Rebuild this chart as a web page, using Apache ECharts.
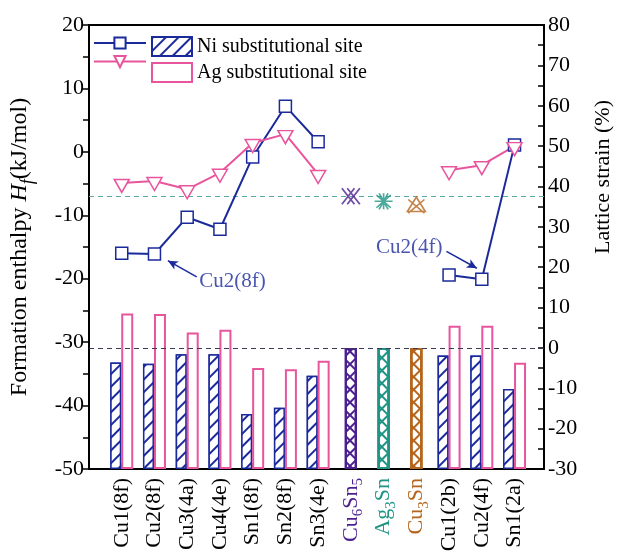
<!DOCTYPE html>
<html>
<head>
<meta charset="utf-8">
<script src="https://cdn.jsdelivr.net/npm/echarts@6/dist/echarts.min.js"></script>
<style>html,body{margin:0;padding:0;background:#fff}#c{width:622px;height:556px}</style>
</head>
<body>
<div id="c"></div>
<script>
// ---- data ----
const categories = ['Cu1(8f)','Cu2(8f)','Cu3(4a)','Cu4(4e)','Sn1(8f)','Sn2(8f)','Sn3(4e)','Cu6Sn5','Ag3Sn','Cu3Sn','Cu1(2b)','Cu2(4f)','Sn1(2a)'];
const niEnthalpy = [-16.0,-16.1,-10.3,-12.2,-0.8,7.2,1.6,null,null,null,-19.4,-20.1,1.1];
const agEnthalpy = [-4.9,-4.6,-5.9,-3.3,1.4,2.8,-3.5,null,null,null,-2.9,-2.1,0.9];
const niStrain = [-3.6,-3.9,-1.6,-1.6,-16.4,-14.8,-6.9,null,null,null,-1.9,-1.9,-10.2];
const agStrain = [8.5,8.4,3.8,4.5,-5.0,-5.3,-3.2,null,null,null,5.5,5.5,-3.7];
const compoundIndex = [7,8,9];
const compoundEnthalpy = [-7.0,-7.8,-8.4];
const compoundStrain = [0,0,0];
const refEnthalpy = -7.0;
const refStrain = 0;
const leftTicks = {min:-50,max:20,interval:10};
const rightTicks = {min:-30,max:80,interval:10};
const annotations = [
  {text:'Cu2(8f)', from:[3.29,-19.7], to:[2.41,-17.15], label:[3.37,-20.4], side:'right'},
  {text:'Cu2(4f)', from:[10.92,-15.7], to:[11.85,-18.35], label:[10.8,-15.0], side:'left'}
];

// ---- styles ----
const FONT = 'Liberation Serif';
const BLUE = '#1b2a9b', PINK = '#e8559d';
const compoundColors = ['#4b1f8f','#1f9484','#b5651d'];
const compoundSymbols = [
  'path://M0,0L14,14M6,0L20,14M0,14L14,0M6,14L20,0',
  'path://M10,0L10,20M0,10L20,10M2,2L18,18M2,18L18,2M5,0L15,20M15,0L5,20',
  'path://M10,0L20,18L0,18ZM1,3L19,20M19,3L1,20'
];

const pairs = arr => arr.map((v,i)=>[i+1, v==null?'-':v]);

function labelFmt(v){
  if (Math.abs(v-Math.round(v))>1e-6) return '';
  const i = Math.round(v)-1;
  if (i<0 || i>=categories.length) return '';
  const c = categories[i];
  if (c==='Cu6Sn5') return '{a|Cu}{as|6}{a|Sn}{as|5}';
  if (c==='Ag3Sn') return '{b|Ag}{bs|3}{b|Sn}';
  if (c==='Cu3Sn') return '{c|Cu}{cs|3}{c|Sn}';
  return '{k|'+c+'}';
}
function rs(color, sub){
  return sub ? {color, fontFamily:FONT, fontSize:15, verticalAlign:'bottom', lineHeight:30, padding:[0,0,0,0]}
             : {color, fontFamily:FONT, fontSize:22, lineHeight:30};
}

const chart = echarts.init(document.getElementById('c'), null, {renderer:'canvas'});
const option = {
  backgroundColor:'#fff',
  animation:false,
  grid:{left:83,right:65,top:25,bottom:87,show:true,borderColor:'#000',borderWidth:2,backgroundColor:'transparent'},
  legend:[
    {data:['Ni line','Ag line'], left:88, top:31, orient:'vertical', itemWidth:52, itemHeight:14, itemGap:5,
     formatter:()=>'', textStyle:{fontSize:20,fontFamily:FONT}},
    {data:['Ni substitutional site','Ag substitutional site'], icon:'rect', left:146, top:31, orient:'vertical', itemWidth:40, itemHeight:19, itemGap:5,
     textStyle:{fontSize:20,fontFamily:FONT,color:'#000'}}
  ],
  xAxis:[
    {type:'value', min:0, max:13.9, interval:1,
     axisLine:{onZero:false,lineStyle:{color:'#000',width:2}},
     axisTick:{inside:true,length:6,lineStyle:{color:'#000',width:1.5}},
     splitLine:{show:false},
     axisLabel:{rotate:90, margin:9, formatter:labelFmt, showMaxLabel:false,
       rich:{k:rs('#000'), a:rs(compoundColors[0]), as:rs(compoundColors[0],true),
             b:rs(compoundColors[1]), bs:rs(compoundColors[1],true),
             c:rs(compoundColors[2]), cs:rs(compoundColors[2],true)}}},
    {type:'value', min:0, max:13.9, show:false}
  ],
  yAxis:[
    {type:'value', position:'left', min:leftTicks.min, max:leftTicks.max, interval:leftTicks.interval,
     name:'{n|Formation enthalpy }{i|H}{s|f}{n|(kJ/mol)}', nameLocation:'middle', nameGap:52, nameRotate:90,
     nameTextStyle:{rich:{n:{fontFamily:FONT,fontSize:24,color:'#000'}, i:{fontFamily:FONT,fontSize:24,fontStyle:'italic',color:'#000'},
       s:{fontFamily:FONT,fontSize:18,fontStyle:'italic',color:'#000',verticalAlign:'bottom',lineHeight:34}}},
     axisLine:{show:true,onZero:false,lineStyle:{color:'#000',width:2}},
     axisTick:{show:true,inside:false,length:6,lineStyle:{color:'#000',width:1.5}},
     minorTick:{show:true,splitNumber:2,length:6,lineStyle:{color:'#000',width:1.5}},
     splitLine:{show:false},
     axisLabel:{color:'#000',fontFamily:FONT,fontSize:22,margin:5}},
    {type:'value', position:'right', min:rightTicks.min, max:rightTicks.max, interval:rightTicks.interval, startValue:rightTicks.min,
     name:'Lattice strain (%)', nameLocation:'middle', nameGap:48, nameRotate:90,
     nameTextStyle:{fontFamily:FONT,fontSize:22,color:'#000',padding:[0,0,0,140]},
     axisLine:{show:true,onZero:false,lineStyle:{color:'#000',width:2}},
     axisTick:{show:true,inside:true,length:6,lineStyle:{color:'#000',width:1.5}},
     minorTick:{show:true,splitNumber:2,length:6,lineStyle:{color:'#000',width:1.5}},
     splitLine:{show:false},
     axisLabel:{color:'#000',fontFamily:FONT,fontSize:22,margin:4}}
  ],
  series:[
    {name:'Ni substitutional site', type:'bar', xAxisIndex:0, yAxisIndex:1, data:pairs(niStrain), barWidth:11, barGap:0, z:2,
     itemStyle:{color:'#fff',borderColor:BLUE,borderWidth:1.5,
       decal:{symbol:'rect',color:BLUE,backgroundColor:'#fff',dashArrayX:[1,0],dashArrayY:[1.3,7],rotation:-Math.PI/4}},
     markLine:{silent:true,symbol:'none',label:{show:false},lineStyle:{color:'#3a3a5a',type:[5,4],width:1},
       data:[{yAxis:refStrain}]}},
    {name:'Ag substitutional site', type:'bar', xAxisIndex:0, yAxisIndex:1, data:pairs(agStrain), barWidth:12, barGap:0, z:2,
     itemStyle:{color:'#fff',borderColor:PINK,borderWidth:2}},
    {name:'compound bars', type:'bar', xAxisIndex:1, yAxisIndex:1, barWidth:12, barGap:'-100%', z:2,
     data:compoundIndex.map((ci,k)=>({value:[ci+1,compoundStrain[k]],
       itemStyle:{color:'#fff',borderColor:compoundColors[k],borderWidth:2,
         decal:{symbol:'rect',color:compoundColors[k],dashArrayX:[1,0],dashArrayY:[1.2,6.5],rotation:Math.PI/4}}}))},
    {name:'compound bars 2', type:'bar', xAxisIndex:1, yAxisIndex:1, barWidth:12, barGap:'-100%', z:3,
     data:compoundIndex.map((ci,k)=>({value:[ci+1,compoundStrain[k]],
       itemStyle:{color:'rgba(255,255,255,0)',borderColor:compoundColors[k],borderWidth:2,
         decal:{symbol:'rect',color:compoundColors[k],dashArrayX:[1,0],dashArrayY:[1.2,6.5],rotation:-Math.PI/4}}}))},
    {name:'Ni line', type:'line', xAxisIndex:0, yAxisIndex:0, data:pairs(niEnthalpy), z:5,
     symbol:'rect', symbolSize:12, connectNulls:false,
     lineStyle:{color:BLUE,width:2}, itemStyle:{color:'#fff',borderColor:BLUE,borderWidth:1.5},
     markLine:{silent:true,symbol:'none',label:{show:false},
       data:[
         {yAxis:refEnthalpy, lineStyle:{color:'#5aa9a2',type:[5,4],width:1}},
         ...annotations.map(a=>[{coord:a.from,symbol:'none',lineStyle:{color:BLUE,width:1.5,type:'solid'}},
                                {coord:a.to,symbol:'arrow',symbolSize:[7,10],lineStyle:{color:BLUE,width:1.5,type:'solid'}}])
       ]}},
    {name:'Ag line', type:'line', xAxisIndex:0, yAxisIndex:0, data:pairs(agEnthalpy), z:5,
     symbol:'triangle', symbolRotate:180, symbolSize:[15,13], symbolOffset:[0,3],
     lineStyle:{color:PINK,width:2}, itemStyle:{color:'#fff',borderColor:PINK,borderWidth:1.5}},
    {name:'compounds', type:'scatter', xAxisIndex:0, yAxisIndex:0, z:6,
     data:compoundIndex.map((ci,k)=>({value:[ci+1,compoundEnthalpy[k]], symbol:compoundSymbols[k], symbolSize:[18,16],
       itemStyle:{color:'rgba(0,0,0,0)',borderColor:compoundColors[k],borderWidth:1.6}}))},
    {name:'annotations', type:'scatter', xAxisIndex:0, yAxisIndex:0, z:6, symbolSize:0, silent:true,
     data:annotations.map(a=>({value:a.label, name:a.text,
       label:{show:true,position:a.side,distance:0,formatter:a.text,color:BLUE,fontFamily:FONT,fontSize:21}}))}
  ]
};
chart.setOption(option);
</script>
</body>
</html>
